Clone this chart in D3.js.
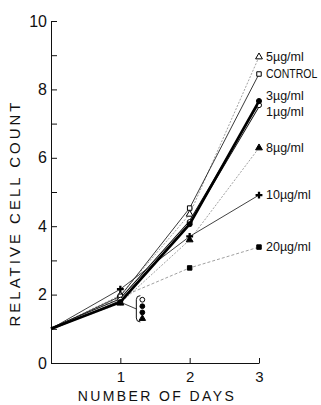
<!DOCTYPE html>
<meta charset="utf-8">
<style>
body { margin: 0; background: #fff; }
svg text { font-family: "Liberation Sans", Arial, sans-serif; fill: #111; }
.series-label { font-size: 12.5px; }
.axis-title { font-size: 14px; letter-spacing: 2.4px; }
</style>
<body>
<script src="https://cdn.jsdelivr.net/npm/d3@7/dist/d3.min.js"></script>
<script>

// data: relative cell count after n days
var days = [0, 1, 2, 3];
var conc5 = [1, 1.98, 4.35, 8.95];
var control = [1, 1.95, 4.53, 8.45];
var conc3 = [1, 1.78, 4.06, 7.66];
var conc1 = [1, 1.85, 4.12, 7.54];
var conc8 = [1, 1.75, 3.6, 6.29];
var conc10 = [1, 2.16, 3.7, 4.91];
var conc20 = [1, 1.92, 2.78, 3.39];
var seriesNames = ["5\u00b5g/ml", "CONTROL", "3\u00b5g/ml", "1\u00b5g/ml", "8\u00b5g/ml", "10\u00b5g/ml", "20\u00b5g/ml"];
var yTicks = [0, 1, 2, 3, 4, 5, 6, 7, 8, 9, 10];
var xTicks = [1, 2, 3];

var series = [
  { name: seriesNames[0], values: conc5 },
  { name: seriesNames[1], values: control },
  { name: seriesNames[2], values: conc3 },
  { name: seriesNames[3], values: conc1 },
  { name: seriesNames[4], values: conc8 },
  { name: seriesNames[5], values: conc10 },
  { name: seriesNames[6], values: conc20 }
];

// how each curve is drawn (line + marker), in draw order
var style = {
  "5\u00b5g/ml":  { w: 0.7, dash: "2,1.5", col: "#777", sym: d3.symbolTriangle, fill: false, order: 0, shift: 0 },
  "8\u00b5g/ml":  { w: 0.7, dash: "2,1.5", col: "#777", sym: d3.symbolTriangle, fill: true,  order: 1, shift: 0 },
  "20\u00b5g/ml": { w: 0.7, dash: "3,2",   col: "#777", sym: d3.symbolSquare,   fill: true,  order: 2, shift: 0 },
  "10\u00b5g/ml": { w: 0.8, dash: null,    col: "#111", sym: d3.symbolCross,    fill: true,  order: 3, shift: 0 },
  "CONTROL":      { w: 0.9, dash: null,    col: "#222", sym: d3.symbolSquare,   fill: false, order: 4, shift: 0, squeeze: 0.84 },
  "1\u00b5g/ml":  { w: 2.6, dash: null,    col: "#111", sym: d3.symbolCircle,   fill: false, order: 5, shift: 6, dbl: true },
  "3\u00b5g/ml":  { w: 2.6, dash: null,    col: "#000", sym: d3.symbolCircle,   fill: true,  order: 6, shift: -5 }
};

var width = 321, height = 405;

var svg = d3.select("body").append("svg")
    .attr("width", width)
    .attr("height", height);

var x = d3.scaleLinear().domain([0, 3]).range([51, 259]);
var y = d3.scaleLinear().domain([0, 10]).range([363, 21]);

// axes, ticks pointing inward
var yAxis = svg.append("g")
    .attr("transform", "translate(" + x(0) + ",0)")
    .call(d3.axisLeft(y)
      .tickValues(yTicks)
      .tickSize(-6)
      .tickSizeOuter(0)
      .tickPadding(4)
      .tickFormat(function(d) { return d % 2 === 0 ? d : ""; }));

var xAxis = svg.append("g")
    .attr("transform", "translate(0," + y(0) + ")")
    .call(d3.axisBottom(x)
      .tickValues(xTicks)
      .tickSize(-5)
      .tickSizeOuter(0)
      .tickPadding(8)
      .tickFormat(d3.format("d")));

svg.selectAll(".domain, .tick line").attr("stroke", "#111").attr("stroke-width", 1);
yAxis.selectAll("text").attr("font-size", 16).attr("font-family", null);
xAxis.selectAll("text").attr("font-size", 15).attr("font-family", null);

svg.append("text")
    .attr("class", "axis-title")
    .attr("x", 157)
    .attr("y", 401)
    .attr("text-anchor", "middle")
    .text("NUMBER OF DAYS");

svg.append("text")
    .attr("class", "axis-title")
    .attr("transform", "translate(20,213) rotate(-90)")
    .attr("text-anchor", "middle")
    .style("font-size", "15px")
    .style("letter-spacing", "3px")
    .text("RELATIVE CELL COUNT");

// curves
var line = d3.line()
    .x(function(d, i) { return x(days[i]); })
    .y(function(d) { return y(d); });

var ordered = series.slice().sort(function(a, b) { return style[a.name].order - style[b.name].order; });

var g = svg.selectAll(".series")
    .data(ordered)
  .enter().append("g")
    .attr("class", "series");

g.append("path")
    .attr("d", function(d) { return line(d.values); })
    .attr("fill", "none")
    .attr("stroke", function(d) { return style[d.name].col; })
    .attr("stroke-width", function(d) { return style[d.name].w; })
    .attr("stroke-dasharray", function(d) { return style[d.name].dash; });

// double line for 1 ug/ml
g.filter(function(d) { return style[d.name].dbl; })
  .append("path")
    .attr("d", function(d) { return line(d.values); })
    .attr("fill", "none")
    .attr("stroke", "#fff")
    .attr("stroke-width", 0.8);

g.selectAll(".mark")
    .data(function(d) {
      return d.values.slice(1).map(function(v, i) { return { name: d.name, day: days[i + 1], v: v }; });
    })
  .enter().append("path")
    .attr("class", "mark")
    .attr("transform", function(d) { return "translate(" + x(d.day) + "," + y(d.v) + ")"; })
    .attr("d", function(d) {
      var s = style[d.name];
      return d3.symbol().type(s.sym).size(s.sym === d3.symbolCross ? 26 : 20)();
    })
    .attr("fill", function(d) { return style[d.name].fill ? "#000" : "#fff"; })
    .attr("stroke", "#000")
    .attr("stroke-width", function(d) { return style[d.name].sym === d3.symbolCross ? 0 : 1; });

// labels at the end of each curve (CONTROL is set narrower, as in the print)
g.append("text")
    .attr("class", "series-label")
    .attr("transform", function(d) {
      var s = style[d.name];
      return "translate(" + (x(3) + 7) + "," + (y(d.values[3]) + s.shift) + ") scale(" + (s.squeeze || 1) + ",1)";
    })
    .attr("dy", "0.35em")
    .text(function(d) { return d.name; });

// bracket key at day 1
var bx = x(1) + 16, by0 = y(1.97), by1 = y(1.2);
svg.append("path")
    .attr("d", "M" + x(1) + "," + y(1.78) + "L" + bx + "," + y(1.58))
    .attr("stroke", "#111").attr("stroke-width", 0.8).attr("fill", "none");
svg.append("path")
    .attr("d", "M" + (bx + 4) + "," + by0 + "Q" + bx + "," + by0 + " " + bx + "," + (by0 + 4) +
               "L" + bx + "," + (by1 - 4) + "Q" + bx + "," + by1 + " " + (bx + 4) + "," + by1)
    .attr("stroke", "#111").attr("stroke-width", 1).attr("fill", "none");

var keyMarks = [
  { sym: d3.symbolCircle, fill: false, v: 1.85 },
  { sym: d3.symbolCircle, fill: true, v: 1.66 },
  { sym: d3.symbolCircle, fill: true, v: 1.48 },
  { sym: d3.symbolTriangle, fill: true, v: 1.3 }
];
svg.selectAll(".key")
    .data(keyMarks)
  .enter().append("path")
    .attr("class", "key")
    .attr("transform", function(d) { return "translate(" + (bx + 6) + "," + y(d.v) + ")"; })
    .attr("d", function(d) { return d3.symbol().type(d.sym).size(18)(); })
    .attr("fill", function(d) { return d.fill ? "#000" : "#fff"; })
    .attr("stroke", "#000")
    .attr("stroke-width", 1);
</script>
</body>
